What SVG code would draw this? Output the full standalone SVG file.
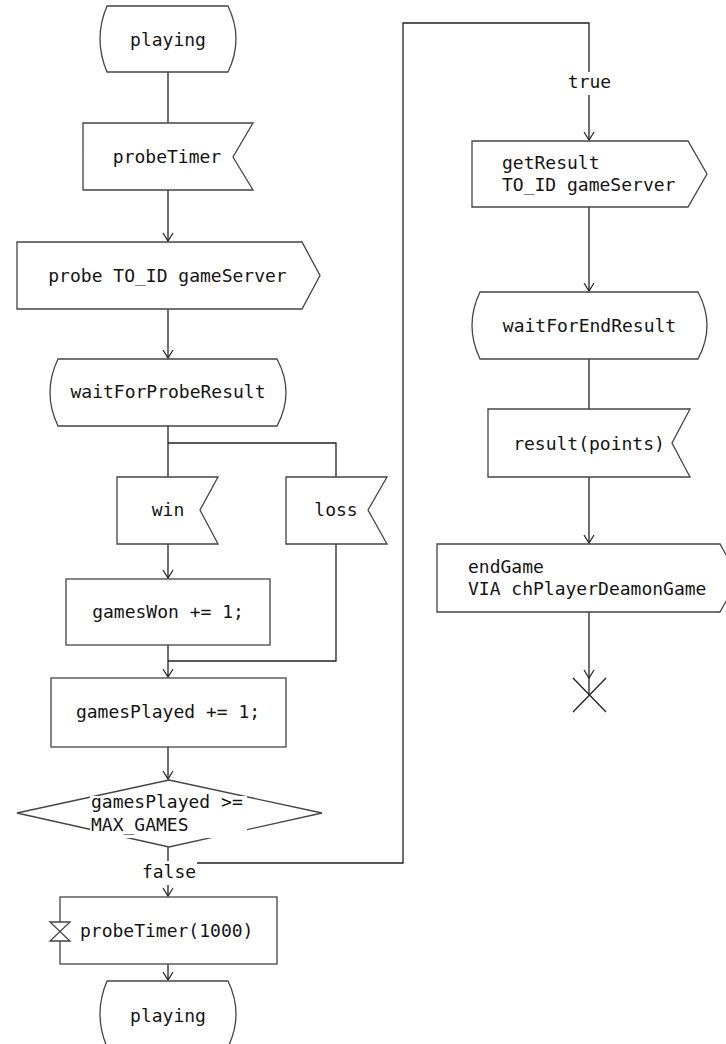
<svg xmlns="http://www.w3.org/2000/svg" width="726" height="1044" viewBox="0 0 726 1044">
<style>
.s{fill:#fff;stroke:#444;stroke-width:1.3}
.c{fill:none;stroke:#222;stroke-width:1.3}
.t{font-family:"DejaVu Sans Mono","Liberation Mono",monospace;font-size:18px;fill:#141414}
.m{text-anchor:middle}
.bg{fill:#fff;stroke:none}
</style>
<defs>
<marker id="arr" markerWidth="12" markerHeight="12" refX="10" refY="6" orient="auto" markerUnits="userSpaceOnUse">
<path d="M2,1 L10,6 L2,11" fill="none" stroke="#222" stroke-width="1.2"/>
</marker>
</defs>
<rect width="726" height="1044" fill="#fff"/>
<g id="connectors">
<path class="c" d="M168,72 L168,123"/>
<path class="c" d="M168,190 L168,241" marker-end="url(#arr)"/>
<path class="c" d="M168,309 L168,358" marker-end="url(#arr)"/>
<path class="c" d="M168,426 L168,477 M168,443 L336,443 L336,477"/>
<path class="c" d="M168,544 L168,578" marker-end="url(#arr)"/>
<path class="c" d="M168,645 L168,677" marker-end="url(#arr)"/>
<path class="c" d="M336,544 L336,661 L168,661"/>
<path class="c" d="M168,747 L168,779" marker-end="url(#arr)"/>
<path class="c" d="M168,847 L168,896" marker-end="url(#arr)"/>
<path class="c" d="M168,863 L403,863 L403,23 L589,23 L589,140" marker-end="url(#arr)"/>
<path class="c" d="M168,964 L168,980" marker-end="url(#arr)"/>
<path class="c" d="M589,207 L589,291" marker-end="url(#arr)"/>
<path class="c" d="M589,359 L589,409"/>
<path class="c" d="M589,477 L589,543" marker-end="url(#arr)"/>
<path class="c" d="M589,612 L589,678" marker-end="url(#arr)"/>
<path class="c" d="M589,678 L589,695"/>
<rect class="bg" x="140" y="861" width="57" height="24"/>
<text class="t m" x="169" y="878">false</text>
<rect class="bg" x="565" y="72" width="49" height="23"/>
<text class="t m" x="589.5" y="88">true</text>
</g>
<g id="playing1">
<path class="s" d="M107,6 L228,6 Q244,39 228,72 L107,72 Q93,39 107,6 Z"/>
<text class="t m" x="168" y="46">playing</text>
</g>
<g id="probeTimer">
<polygon class="s" points="83,123 253,123 233,157 253,190 83,190"/>
<text class="t m" x="167" y="163">probeTimer</text>
</g>
<g id="probe">
<polygon class="s" points="17,242 302,242 320,275.5 302,309 17,309"/>
<text class="t m" x="167.5" y="282">probe TO_ID gameServer</text>
</g>
<g id="waitForProbeResult">
<path class="s" d="M58,359 L277,359 Q295,392.5 277,426 L58,426 Q42,392.5 58,359 Z"/>
<text class="t m" x="168" y="398">waitForProbeResult</text>
</g>
<g id="win">
<polygon class="s" points="117,477 218,477 200,510 218,544 117,544"/>
<text class="t m" x="168" y="516">win</text>
</g>
<g id="loss">
<polygon class="s" points="286,477 387,477 368,510 387,544 286,544"/>
<text class="t m" x="336" y="516">loss</text>
</g>
<g id="gamesWon">
<rect class="s" x="66" y="579" width="204" height="66"/>
<text class="t m" x="168" y="618">gamesWon += 1;</text>
</g>
<g id="gamesPlayed">
<rect class="s" x="51" y="678" width="235" height="69"/>
<text class="t m" x="168" y="718">gamesPlayed += 1;</text>
</g>
<g id="decision">
<polygon class="s" points="169,780 322,813 169,847 17,813"/>
<rect class="bg" x="90" y="796" width="157" height="42"/>
<text class="t" x="91" y="808">gamesPlayed &gt;=</text>
<text class="t" x="91" y="831">MAX_GAMES</text>
</g>
<g id="timerSet">
<rect class="s" x="60" y="897" width="217" height="67"/>
<path class="s" d="M50,922 L70,922 L50,941 L70,941 Z"/>
<text class="t" x="80" y="937">probeTimer(1000)</text>
</g>
<g id="playing2">
<path class="s" d="M107,981 L228,981 Q244,1014 228,1047 L107,1047 Q93,1014 107,981 Z"/>
<text class="t m" x="168" y="1022">playing</text>
</g>
<g id="getResult">
<polygon class="s" points="472,141 688,141 707,174 688,207 472,207"/>
<text class="t" x="502" y="169">getResult</text>
<text class="t" x="502" y="191">TO_ID gameServer</text>
</g>
<g id="waitForEndResult">
<path class="s" d="M480,292 L698,292 Q716,325.5 698,359 L480,359 Q464,325.5 480,292 Z"/>
<text class="t m" x="589.5" y="332">waitForEndResult</text>
</g>
<g id="result">
<polygon class="s" points="488,409 690,409 672,443 690,477 488,477"/>
<text class="t m" x="589" y="450">result(points)</text>
</g>
<g id="endGame">
<polygon class="s" points="437,544 720,544 739,578 720,612 437,612"/>
<text class="t" x="468" y="573">endGame</text>
<text class="t" x="468" y="595">VIA chPlayerDeamonGame</text>
</g>
<g id="stop">
<path class="c" d="M573,678 L606,712 M606,678 L573,712"/>
</g>
</svg>
